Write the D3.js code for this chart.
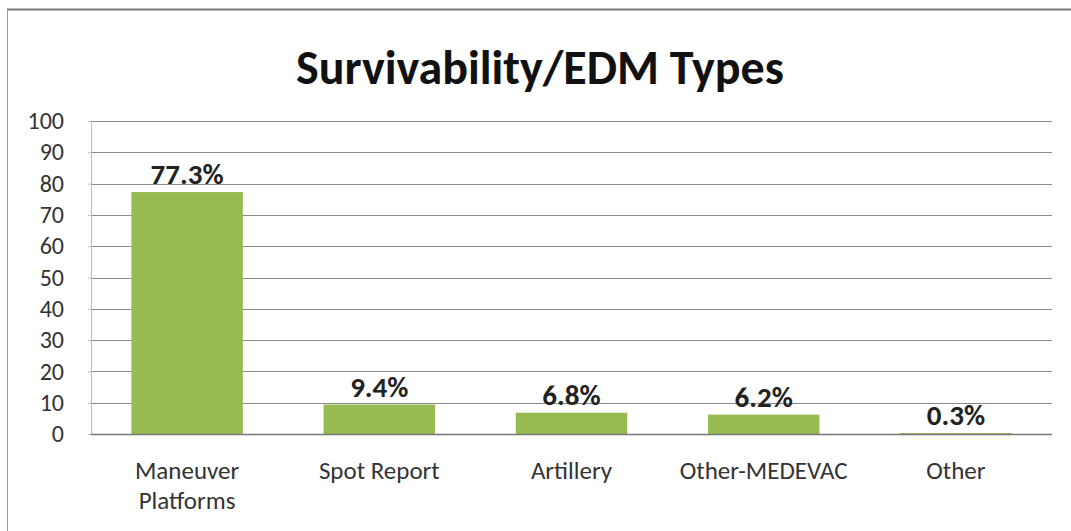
<!DOCTYPE html>
<html><head><meta charset="utf-8">
<script src="https://cdn.jsdelivr.net/npm/d3@7"></script>
<style>body{margin:0;background:#fff}svg{display:block}text{font-family:Carlito,Calibri,"Open Sans",sans-serif}</style>
</head><body>
<svg id="c" width="1071" height="531"></svg>
<script>
const categories = [["Maneuver","Platforms"],["Spot Report"],["Artillery"],["Other-MEDEVAC"],["Other"]];
const values = [77.3, 9.4, 6.8, 6.2, 0.3];
const labels = ["77.3%","9.4%","6.8%","6.2%","0.3%"];
const yTicks = [0,10,20,30,40,50,60,70,80,90,100];

const svg = d3.select("#c");
const W = 1071, H = 531;
const m = {l:91, r:1052, t:121, b:434};

// frame
svg.append("line").attr("x1",7).attr("x2",W).attr("y1",9.5).attr("y2",9.5).attr("stroke","#777").attr("stroke-width",2);
svg.append("line").attr("x1",7.5).attr("x2",7.5).attr("y1",9).attr("y2",H).attr("stroke","#999").attr("stroke-width",1);

svg.append("text").attr("x",540).attr("y",84).attr("text-anchor","middle")
  .attr("font-size",48).attr("font-weight","bold").attr("fill","#111")
  .text("Survivability/EDM Types");

const x = d3.scaleBand().domain(d3.range(values.length)).range([m.l,m.r]).paddingInner(0.42).paddingOuter(0.21);
const y = d3.scaleLinear().domain([0,100]).range([m.b,m.t]);

// gridlines
svg.append("g").selectAll("line").data(yTicks.filter(d=>d>0)).join("line")
  .attr("x1",m.l).attr("x2",m.r).attr("y1",d=>Math.round(y(d))+0.5).attr("y2",d=>Math.round(y(d))+0.5)
  .attr("stroke","#8a8a8a").attr("stroke-width",1.2);

// y axis
const ya = svg.append("g").attr("transform",`translate(${m.l},0)`)
  .call(d3.axisLeft(y).tickValues(yTicks).tickSize(3).tickPadding(24));
ya.select(".domain").attr("stroke","#bbb");
ya.selectAll(".tick line").attr("stroke","#bbb");
ya.selectAll("text").attr("font-size",24).attr("fill","#333").attr("font-family",'Carlito,Calibri,"Open Sans",sans-serif');

// bars
svg.append("g").selectAll("rect").data(values).join("rect")
  .attr("x",(d,i)=>x(i)).attr("width",x.bandwidth())
  .attr("y",d=>y(d)).attr("height",d=>y(0)-y(d)).attr("fill","#96bb50");

// baseline
svg.append("line").attr("x1",m.l).attr("x2",m.r).attr("y1",y(0)+0.5).attr("y2",y(0)+0.5).attr("stroke","#777").attr("stroke-width",1.5);

// data labels
svg.append("g").selectAll("text").data(values).join("text")
  .attr("x",(d,i)=>x(i)+x.bandwidth()/2).attr("y",d=>y(d)-8)
  .attr("text-anchor","middle").attr("font-size",29).attr("font-weight","bold").attr("fill","#222")
  .text((d,i)=>labels[i]);

// category labels
const cg = svg.append("g").selectAll("text").data(categories).join("text")
  .attr("x",(d,i)=>x(i)+x.bandwidth()/2).attr("y",479)
  .attr("text-anchor","middle").attr("font-size",25).attr("fill","#333");
cg.selectAll("tspan").data(d=>d).join("tspan")
  .attr("x",function(){return this.parentNode.getAttribute("x");})
  .attr("dy",(d,j)=>j?30:0).text(d=>d);
</script>
</body></html>
